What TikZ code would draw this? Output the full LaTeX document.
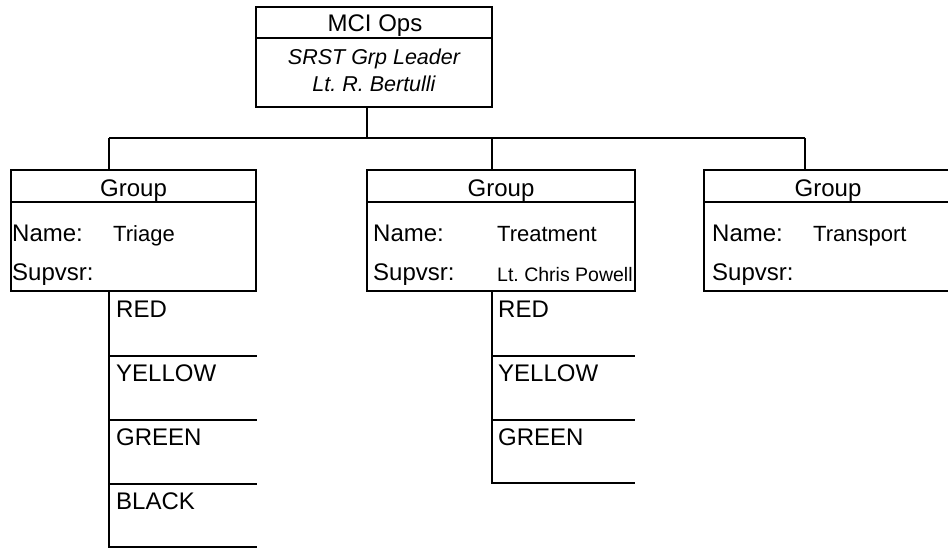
\documentclass[tikz,border=0pt]{standalone}
\usepackage{fontspec}
\setmainfont{Liberation Sans}
\frenchspacing
\begin{document}
\begin{tikzpicture}[x=1pt,y=-1pt,
  wire/.style={draw, line width=1.8pt},
  box/.style={draw, line width=1.8pt, rectangle, inner sep=0pt, outer sep=0pt, anchor=north west},
  big/.style={inner sep=0pt, font=\fontsize{24}{28}\selectfont},
  val/.style={inner sep=0pt, font=\fontsize{22}{26}\selectfont},
  ital/.style={inner sep=0pt, font=\fontsize{21.5}{25}\selectfont\itshape},
  small/.style={inner sep=0pt, font=\fontsize{19.5}{23}\selectfont}
]
\useasboundingbox (0,0) rectangle (948,548);
\clip (0,0) rectangle (948,548);

% top box
\node[box, minimum width=236pt, minimum height=100pt] (ops) at (256,7) {};
\draw[wire] (ops.west |- 0,38) -- (ops.east |- 0,38);
\node[big, anchor=base] (opsT) at (375,32) {MCI Ops};
\node[ital, anchor=base] (opsR) at (374,65) {SRST Grp Leader};
\node[ital, anchor=base] (opsN) at (374,92) {Lt. R. Bertulli};

% group boxes
\node[box, minimum width=245pt, minimum height=121pt] (grpA) at (11,170) {};
\node[box, minimum width=268pt, minimum height=121pt] (grpB) at (367,170) {};
\node[box, minimum width=248pt, minimum height=121pt] (grpC) at (704,170) {};
\foreach \g in {grpA,grpB,grpC}
  \draw[wire] (\g.west |- 0,202) -- (\g.east |- 0,202);

% bus from the top box to the groups
\coordinate (busTop) at (367,138);
\coordinate (busL) at (109,138);
\coordinate (busM) at (492,138);
\coordinate (busR) at (805,138);
\draw[wire] (ops.south -| busTop) -- (busTop);
\draw[wire] (busL) -- (busR);
\draw[wire] (busL) -- (grpA.north -| busL);
\draw[wire] (busM) -- (grpB.north -| busM);
\draw[wire] (busR) -- (grpC.north -| busR);

% group texts
\node[big, anchor=base] (gA) at (133.5,197) {Group};
\node[big, anchor=base] (gB) at (501,197) {Group};
\node[big, anchor=base] (gC) at (828,197) {Group};

\node[big, anchor=base west] (nA) at (12,242) {Name:};
\node[val, anchor=base west] (vA) at (113,242) {Triage};
\node[big, anchor=base west] (sA) at (12,280) {Supvsr:};

\node[big, anchor=base west] (nB) at (373,242) {Name:};
\node[val, anchor=base west] (vB) at (497,242) {Treatment};
\node[big, anchor=base west] (sB) at (373,280) {Supvsr:};
\node[small, fill=white, anchor=base west, text height=34pt, text depth=6pt] (pB) at (497,281) {Lt. Chris Powell};

\node[big, anchor=base west] (nC) at (712,242) {Name:};
\node[val, anchor=base west] (vC) at (813,242) {Transport};
\node[big, anchor=base west] (sC) at (712,280) {Supvsr:};

% triage sub-list
\coordinate (lA) at (109,547);
\draw[wire] (grpA.south -| lA) -- (lA) -- (257,547);
\foreach \yy in {356,420,484}
  \draw[wire] (109,\yy) -- (257,\yy);
\node[big, anchor=base west] (rA) at (116,317) {RED};
\node[big, anchor=base west] (yA) at (116,381) {YELLOW};
\node[big, anchor=base west] (gnA) at (116,445) {GREEN};
\node[big, anchor=base west] (bA) at (116,509) {BLACK};

% treatment sub-list
\coordinate (lB) at (492,483);
\draw[wire] (grpB.south -| lB) -- (lB) -- (635,483);
\foreach \yy in {356,420}
  \draw[wire] (492,\yy) -- (635,\yy);
\node[big, anchor=base west] (rB) at (498,317) {RED};
\node[big, anchor=base west] (yB) at (498,381) {YELLOW};
\node[big, anchor=base west] (gnB) at (498,445) {GREEN};
\end{tikzpicture}
\end{document}
